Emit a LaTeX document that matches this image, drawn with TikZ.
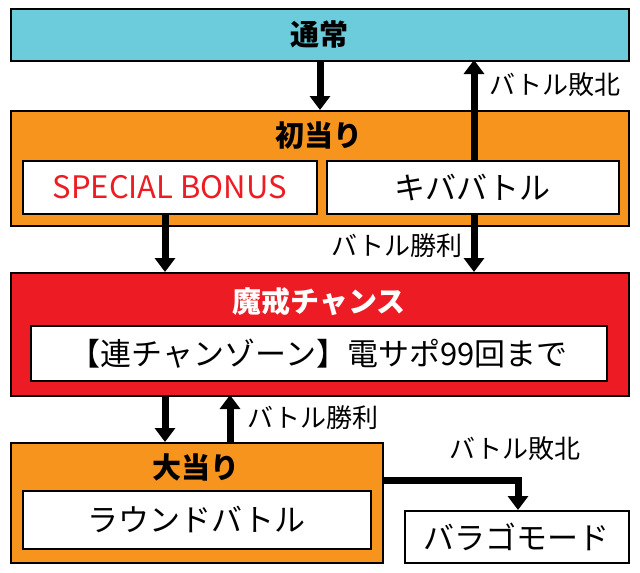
\documentclass[tikz,border=0pt]{standalone}
\usepackage{fontspec}
\setmainfont{Noto Sans CJK JP}
\usetikzlibrary{arrows.meta}
\definecolor{cblue}{HTML}{6DCCDC}
\definecolor{corange}{HTML}{F7941D}
\definecolor{cred}{HTML}{ED1C24}
\tikzset{
 box/.style={draw=black,line width=1.5pt,anchor=north west,inner sep=0pt},
 ttl/.style={font=\fontsize{29}{32}\selectfont\bfseries},
 txt/.style={font=\fontsize{31}{34}\selectfont},
 lbl/.style={font=\fontsize{26}{28}\selectfont},
 arr/.style={line width=7pt,-{Triangle[length=14pt,width=20pt]}},
}
\begin{document}
\begin{tikzpicture}[x=1pt,y=-1pt]
\useasboundingbox (0,0) rectangle (640,573);
\node[box,fill=cblue,minimum width=618pt,minimum height=52pt] (top) at (10,8) {};
\node[ttl] at (319,34) {通常};
\node[box,fill=corange,minimum width=618pt,minimum height=115pt] (first) at (10,110) {};
\node[ttl] at (319,136) {初当り};
\node[box,fill=white,minimum width=294pt,minimum height=53pt] (sb) at (22,160) {};
\node[txt,text=cred] at (sb.center) {SPECIAL BONUS};
\node[box,fill=white,minimum width=292pt,minimum height=53pt] (kiba) at (326,160) {};
\node[txt] at (kiba.center) {キババトル};
\node[box,fill=cred,minimum width=618pt,minimum height=123pt] (mkai) at (10,272) {};
\node[ttl,text=white] at (319,302) {魔戒チャンス};
\node[box,fill=white,minimum width=576pt,minimum height=55pt] (ren) at (30,325) {};
\node[txt] at (ren.center) {【連チャンゾーン】電サポ99回まで};
\node[box,fill=corange,minimum width=372pt,minimum height=120pt] (big) at (10,442) {};
\node[ttl] at (196,467) {大当り};
\node[box,fill=white,minimum width=348pt,minimum height=58pt] (rb) at (22,490) {};
\node[txt] at (rb.center) {ラウンドバトル};
\node[box,fill=white,minimum width=224pt,minimum height=52pt] (bar) at (404,510) {};
\node[txt] at (bar.center) {バラゴモード};
% arrows
\coordinate (a1s) at (320,60); \coordinate (a1e) at (320,110);
\draw[arr] (a1s) -- (a1e);
\coordinate (a2s) at (474,160); \coordinate (a2e) at (474,60);
\draw[arr] (a2s) -- (a2e);
\node[lbl,anchor=west] at (486,85) {バトル敗北};
\coordinate (a3s) at (165,213); \coordinate (a3e) at (165,272);
\draw[arr] (a3s) -- (a3e);
\coordinate (a4s) at (474,213); \coordinate (a4e) at (474,272);
\draw[arr] (a4s) -- (a4e);
\node[lbl,anchor=east] at (466,246) {バトル勝利};
\coordinate (a5s) at (165,395); \coordinate (a5e) at (165,442);
\draw[arr] (a5s) -- (a5e);
\coordinate (a6s) at (230,442); \coordinate (a6e) at (230,395);
\draw[arr] (a6s) -- (a6e);
\node[lbl,anchor=west] at (244,418) {バトル勝利};
\coordinate (a7s) at (382,480); \coordinate (a7e) at (518,510);
\draw[arr] (a7s) -| (a7e);
\node[lbl] at (515,449) {バトル敗北};
\end{tikzpicture}
\end{document}
